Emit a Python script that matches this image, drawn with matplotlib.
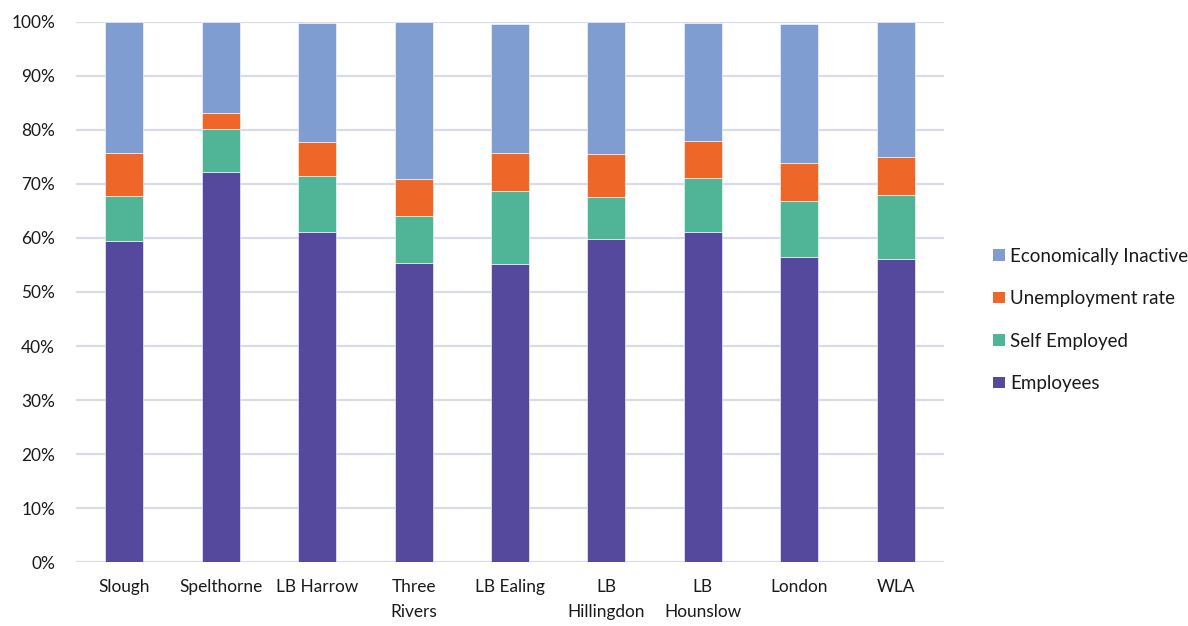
import matplotlib
matplotlib.use("Agg")
import matplotlib.pyplot as plt
from matplotlib.patches import Patch
from matplotlib.ticker import PercentFormatter

# Labour market composition by area (share of working-age population, %)
areas = ["Slough", "Spelthorne", "LB Harrow", "Three\nRivers", "LB Ealing",
         "LB\nHillingdon", "LB\nHounslow", "London", "WLA"]
employees = [59.5, 72.3, 61.1, 55.4, 55.1, 59.8, 61.2, 56.5, 56.1]
self_employed = [8.2, 7.8, 10.4, 8.6, 13.6, 7.7, 9.9, 10.3, 11.9]
unemployment = [8.0, 3.0, 6.2, 7.0, 7.0, 8.0, 6.9, 7.1, 7.0]
inactive = [24.3, 16.9, 22.2, 29.0, 24.0, 24.5, 21.9, 25.8, 25.0]

series = [
    ("Employees", employees, "#55499D"),
    ("Self Employed", self_employed, "#4FB596"),
    ("Unemployment rate", unemployment, "#EE6628"),
    ("Economically Inactive", inactive, "#7F9DD1"),
]

plt.rcParams["font.family"] = ["Lato", "DejaVu Sans"]

fig = plt.figure(figsize=(11.88, 6.26), dpi=100)
ax = fig.add_axes([0.064, 0.1022, 0.7306, 0.8627])

x = list(range(len(areas)))
bottom = [0.0] * len(areas)
for name, vals, color in series:
    ax.bar(x, vals, width=0.395, bottom=bottom, color=color, label=name,
           edgecolor="white", linewidth=0.4, zorder=3)
    bottom = [b + v for b, v in zip(bottom, vals)]

ax.set_xlim(-0.5, len(areas) - 0.5)
ax.set_ylim(0, 100)
ax.set_yticks(range(0, 101, 10))
ax.yaxis.set_major_formatter(PercentFormatter(decimals=0))
ax.set_xticks(x)
ax.set_xticklabels(areas, linespacing=1.75)
ax.tick_params(axis="both", length=0, labelsize=12.4, colors="#1a1a1a")
ax.tick_params(axis="y", pad=15)
ax.tick_params(axis="x", pad=12)

ax.grid(axis="y", color="#D9DCE8", linewidth=1.6, zorder=0)
for s in ax.spines.values():
    s.set_visible(False)

handles = [Patch(facecolor=c, edgecolor="none") for _, _, c in series][::-1]
labels = [n for n, _, _ in series][::-1]
fig.legend(handles, labels, loc="center left", bbox_to_anchor=(0.822, 0.489),
           frameon=False, fontsize=13.5, handlelength=0.6, handleheight=0.6,
           handletextpad=0.3, labelspacing=1.36, labelcolor="#1a1a1a")

fig.savefig("out.png", dpi=100, facecolor="white")
